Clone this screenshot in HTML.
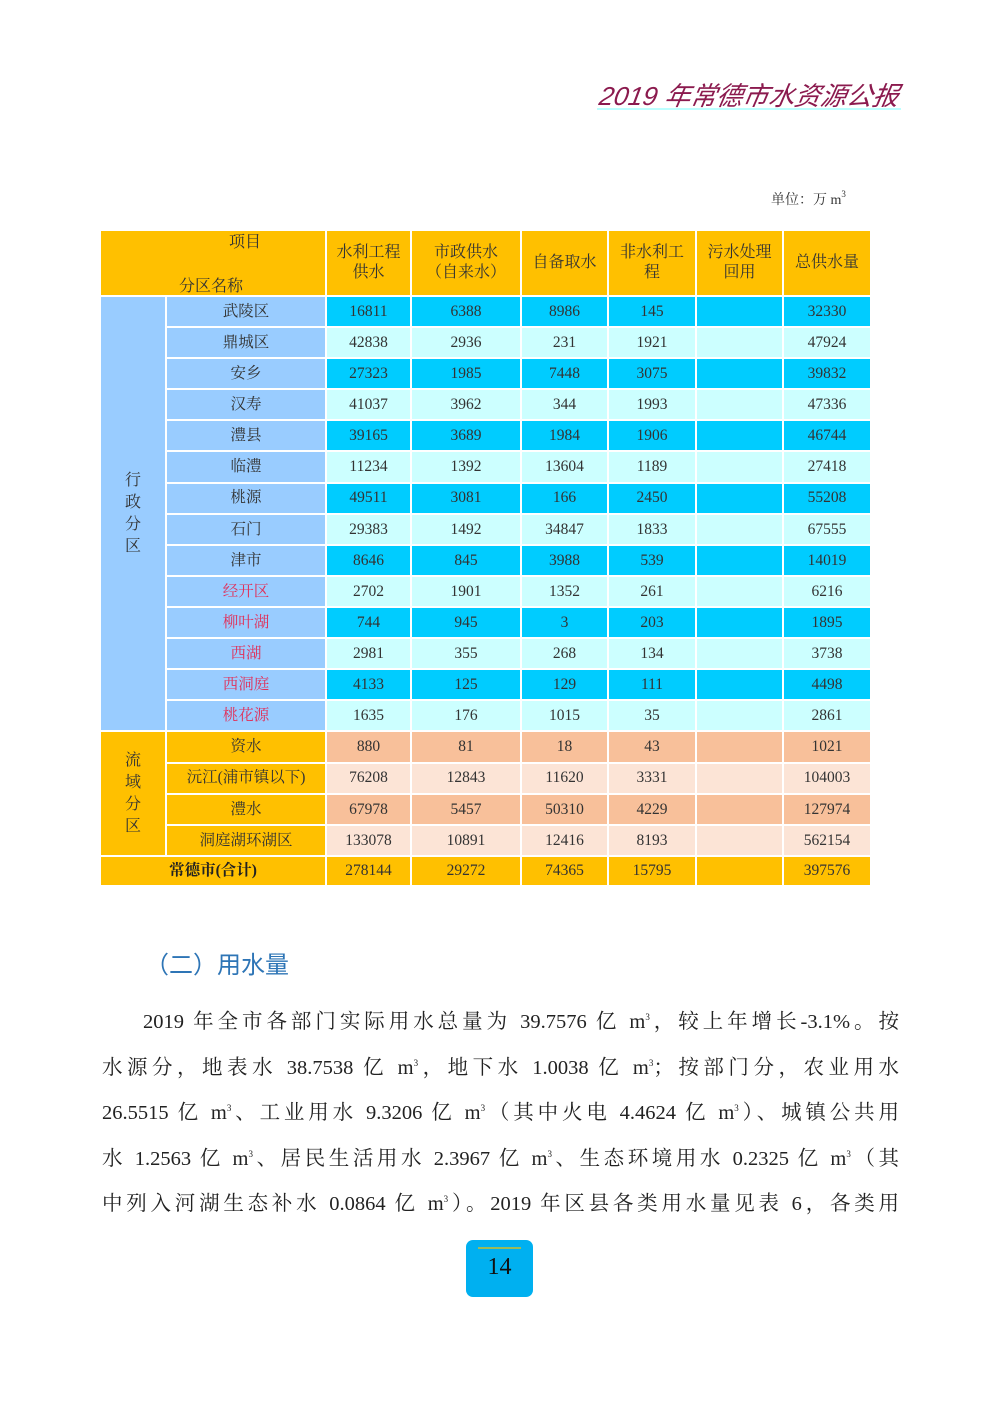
<!DOCTYPE html>
<html><head><meta charset="utf-8"><style>
body{margin:0;width:1000px;height:1415px;background:#fff;position:relative;overflow:hidden;font-family:"Liberation Serif","Noto Serif CJK SC",serif;}
.t{position:absolute;white-space:nowrap}
table{position:absolute;left:99px;top:229px;border-collapse:collapse;table-layout:fixed;width:771px;font-size:15.5px;color:#333}
td{border:2px solid #fff;text-align:center;padding:0;line-height:1.25}
.h td{background:#FFC000;height:64px;font-size:16px}
.d td{background:#00CCFF}
.l td{background:#CCFFFF}
.d td,.l td{height:29.1px}
td.a{background:#99CCFF!important}
td.o{background:#FFC000!important}
.s td{background:#F8C09A;height:29.2px}
.p td{background:#FCE4D6;height:29.2px}
.tot td{background:#FFC000;height:28px}
.r{color:#E0305A}
.line{position:absolute;left:102px;width:797px;font-size:20.5px;text-align:justify;text-align-last:justify;color:#222;line-height:30px}
sup{font-size:9px;line-height:0}
</style></head><body>
<div class="t" style="left:600px;top:76px;font-family:'Liberation Sans','Noto Sans CJK SC',sans-serif;font-style:italic;font-size:26px;color:#8B1A4E;transform:skewX(-10deg)">2019 年常德市水资源公报</div>
<div style="position:absolute;left:597px;top:108px;width:304px;height:2px;background:#bff"></div>
<div class="t" style="left:771px;top:189px;font-size:14px;color:#333">单位：万 m<sup style="font-size:9px;vertical-align:7px">3</sup></div>
<table>
<colgroup><col style="width:66px"><col style="width:160px"><col style="width:85px"><col style="width:110px"><col style="width:87px"><col style="width:88px"><col style="width:87px"><col style="width:88px"></colgroup>
<tr class="h"><td colspan="2" style="text-align:left;position:relative"><span style="position:absolute;left:128px;top:2px">项目</span><span style="position:absolute;left:78px;top:46px">分区名称</span></td><td>水利工程<br>供水</td><td>市政供水<br>（自来水）</td><td>自备取水</td><td>非水利工<br>程</td><td>污水处理<br>回用</td><td>总供水量</td></tr>
<tr class="d"><td class="a" rowspan="14" style="font-size:16px;line-height:22px">行<br>政<br>分<br>区</td><td class="a">武陵区</td><td>16811</td><td>6388</td><td>8986</td><td>145</td><td></td><td>32330</td></tr>
<tr class="l"><td class="a">鼎城区</td><td>42838</td><td>2936</td><td>231</td><td>1921</td><td></td><td>47924</td></tr>
<tr class="d"><td class="a">安乡</td><td>27323</td><td>1985</td><td>7448</td><td>3075</td><td></td><td>39832</td></tr>
<tr class="l"><td class="a">汉寿</td><td>41037</td><td>3962</td><td>344</td><td>1993</td><td></td><td>47336</td></tr>
<tr class="d"><td class="a">澧县</td><td>39165</td><td>3689</td><td>1984</td><td>1906</td><td></td><td>46744</td></tr>
<tr class="l"><td class="a">临澧</td><td>11234</td><td>1392</td><td>13604</td><td>1189</td><td></td><td>27418</td></tr>
<tr class="d"><td class="a">桃源</td><td>49511</td><td>3081</td><td>166</td><td>2450</td><td></td><td>55208</td></tr>
<tr class="l"><td class="a">石门</td><td>29383</td><td>1492</td><td>34847</td><td>1833</td><td></td><td>67555</td></tr>
<tr class="d"><td class="a">津市</td><td>8646</td><td>845</td><td>3988</td><td>539</td><td></td><td>14019</td></tr>
<tr class="l"><td class="a r">经开区</td><td>2702</td><td>1901</td><td>1352</td><td>261</td><td></td><td>6216</td></tr>
<tr class="d"><td class="a r">柳叶湖</td><td>744</td><td>945</td><td>3</td><td>203</td><td></td><td>1895</td></tr>
<tr class="l"><td class="a r">西湖</td><td>2981</td><td>355</td><td>268</td><td>134</td><td></td><td>3738</td></tr>
<tr class="d"><td class="a r">西洞庭</td><td>4133</td><td>125</td><td>129</td><td>111</td><td></td><td>4498</td></tr>
<tr class="l"><td class="a r">桃花源</td><td>1635</td><td>176</td><td>1015</td><td>35</td><td></td><td>2861</td></tr>
<tr class="s"><td class="o" rowspan="4" style="font-size:16px;line-height:22px">流<br>域<br>分<br>区</td><td class="o">资水</td><td>880</td><td>81</td><td>18</td><td>43</td><td></td><td>1021</td></tr>
<tr class="p"><td class="o">沅江(浦市镇以下)</td><td>76208</td><td>12843</td><td>11620</td><td>3331</td><td></td><td>104003</td></tr>
<tr class="s"><td class="o">澧水</td><td>67978</td><td>5457</td><td>50310</td><td>4229</td><td></td><td>127974</td></tr>
<tr class="p"><td class="o">洞庭湖环湖区</td><td>133078</td><td>10891</td><td>12416</td><td>8193</td><td></td><td>562154</td></tr>
<tr class="tot"><td colspan="2" style="font-weight:bold;color:#222">常德市(合计)</td><td>278144</td><td>29272</td><td>74365</td><td>15795</td><td></td><td>397576</td></tr>
</table>
<div class="t" style="left:145px;top:945px;font-size:24px;color:#2E75B6;font-family:'Liberation Sans','Noto Sans CJK SC',sans-serif">（二）用水量</div>
<div class="line" style="top:1007px;left:143px;width:756px">2019 年全市各部门实际用水总量为 39.7576 亿 m<sup>3</sup>，较上年增长-3.1%。按</div>
<div class="line" style="top:1053px">水源分，地表水 38.7538 亿 m<sup>3</sup>，地下水 1.0038 亿 m<sup>3</sup>；按部门分，农业用水</div>
<div class="line" style="top:1098px">26.5515 亿 m<sup>3</sup>、工业用水 9.3206 亿 m<sup>3</sup>（其中火电 4.4624 亿 m<sup>3</sup>）、城镇公共用</div>
<div class="line" style="top:1144px">水 1.2563 亿 m<sup>3</sup>、居民生活用水 2.3967 亿 m<sup>3</sup>、生态环境用水 0.2325 亿 m<sup>3</sup>（其</div>
<div class="line" style="top:1189px">中列入河湖生态补水 0.0864 亿 m<sup>3</sup>）。2019 年区县各类用水量见表 6，各类用</div>
<div style="position:absolute;left:466px;top:1240px;width:67px;height:57px;background:#00B0F0;border-radius:7px"></div>
<div style="position:absolute;left:478px;top:1247px;width:43px;height:2px;background:#9BBB59"></div>
<div class="t" style="left:466px;top:1254px;width:67px;text-align:center;font-size:24px;color:#111">14</div>
</body></html>
